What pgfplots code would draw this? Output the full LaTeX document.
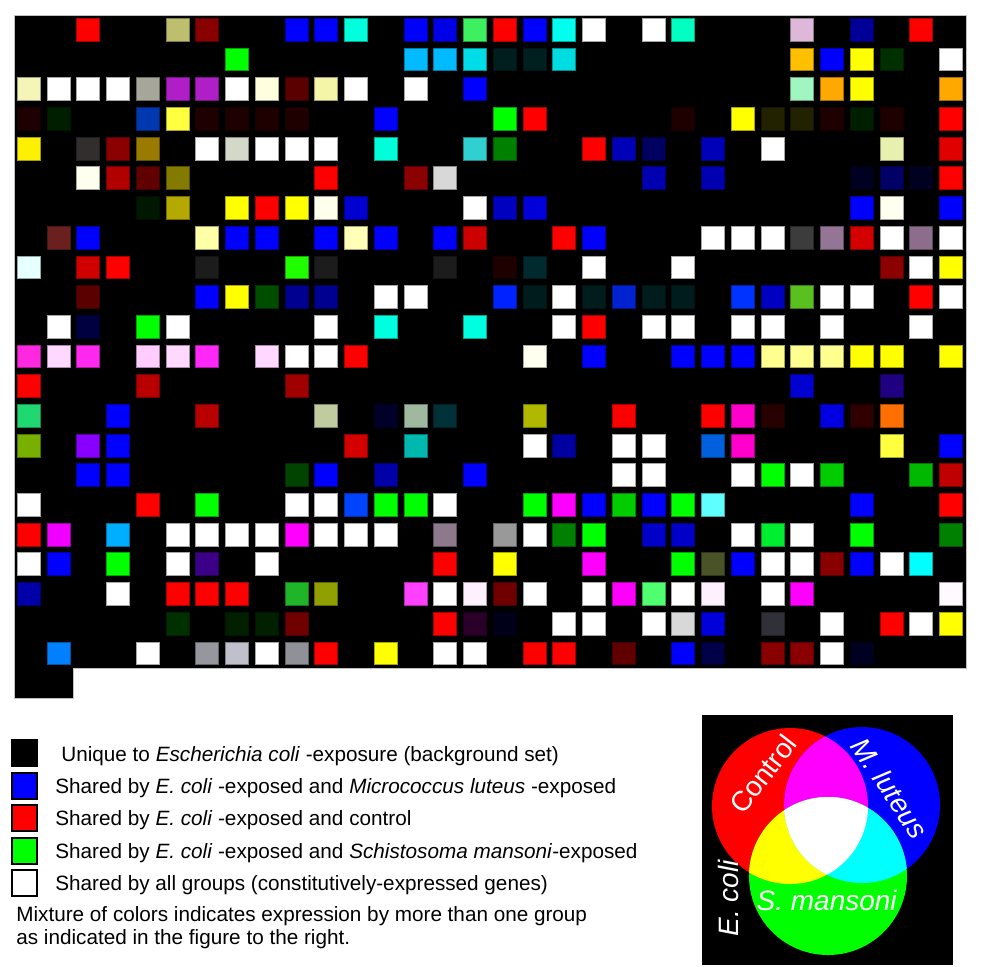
\documentclass[border=0pt]{standalone}
\usepackage{pgfplots}
\usepackage{pgfplotstable}
\pgfplotsset{compat=1.18}
\usepackage{fontspec}
\setmainfont{Liberation Sans}

\definecolor{pureR}{HTML}{FF0000}
\definecolor{pureG}{HTML}{00FF00}
\definecolor{pureB}{HTML}{0000FF}
\definecolor{pureM}{HTML}{FF00FF}
\definecolor{pureY}{HTML}{FFFF00}
\definecolor{pureC}{HTML}{00FFFF}

% one row per coloured cell: column, row (0 = top), hex colour
\pgfplotstableread{
x y c
2 0 FF0000
5 0 BDBF6E
6 0 880000
9 0 0000FF
10 0 0000FF
11 0 00FFDD
13 0 0000FF
14 0 0000E6
15 0 3CF060
16 0 FF0000
17 0 0000FF
18 0 00FFEE
19 0 FFFFFF
21 0 FFFFFF
22 0 00FFC0
26 0 DDB8D8
28 0 000099
30 0 FF0000
7 1 00FF00
13 1 00BBFF
14 1 00BBFF
15 1 00DDE8
16 1 001E1E
17 1 002020
18 1 00DDE0
26 1 FFC000
27 1 0000FF
28 1 FFFF00
29 1 003000
31 1 FFFFFF
0 2 F5F5B8
1 2 FFFFFF
2 2 FFFFFF
3 2 FFFFFF
4 2 A6A69A
5 2 B01EC8
6 2 B01EC8
7 2 FFFFFF
8 2 FFFFE0
9 2 5A0000
10 2 F5F5A8
11 2 FFFFFF
13 2 FFFFFF
15 2 0000FF
26 2 A0F5C0
27 2 FFA800
28 2 FFFF00
31 2 FFA800
0 3 1E0000
1 3 001E00
4 3 0038B0
5 3 FFFF40
6 3 1E0000
7 3 1E0000
8 3 1E0000
9 3 1E0000
12 3 0000FF
16 3 00FF00
17 3 FF0000
22 3 1E0000
24 3 FFFF00
25 3 222200
26 3 222200
27 3 1E0000
28 3 001E00
29 3 1E0000
31 3 FF0000
0 4 FFF000
2 4 332E2E
3 4 8B0000
4 4 9A7A00
6 4 FFFFFF
7 4 D4D8C8
8 4 FFFFFF
9 4 FFFFFF
10 4 FFFFFF
12 4 00FFD8
15 4 30D0D0
16 4 008000
19 4 FF0000
20 4 0000B8
21 4 000060
23 4 0000B8
25 4 FFFFFF
29 4 E8F0B0
31 4 E00000
2 5 FFFFF0
3 5 B20000
4 5 600000
5 5 857A00
10 5 FF0000
13 5 8B0000
14 5 D8D8D8
21 5 0000B0
23 5 0000B0
28 5 000020
29 5 000066
30 5 000020
31 5 FF0000
4 6 001800
5 6 B5A800
7 6 FFFF00
8 6 FF0000
9 6 FFFF00
10 6 FFFFEE
11 6 0000D0
15 6 FFFFFF
16 6 0000C0
17 6 0000D8
28 6 0000FF
29 6 FFFFF0
31 6 0000FF
1 7 6B2020
2 7 0000FF
6 7 FFFFA8
7 7 0000FF
8 7 0000FF
10 7 0000FF
11 7 FFFFB8
12 7 0000FF
14 7 0000FF
15 7 CC0000
18 7 FF0000
19 7 0000FF
23 7 FFFFFF
24 7 FFFFFF
25 7 FFFFFF
26 7 3C3C3C
27 7 957596
28 7 D40000
29 7 FFFFFF
30 7 8C6E8C
31 7 FFFFFF
0 8 E6FFFF
2 8 D00000
3 8 FF0000
6 8 1C1C1C
9 8 20FF00
10 8 1C1C1C
14 8 1C1C1C
16 8 1E0000
17 8 002A2E
19 8 FFFFFF
22 8 FFFFFF
29 8 8B0000
30 8 FFFFFF
31 8 FFFF00
2 9 5A0000
6 9 0000FF
7 9 FFFF00
8 9 004D00
9 9 000090
10 9 000090
12 9 FFFFFF
13 9 FFFFFF
16 9 0022FF
17 9 001C1C
18 9 FFFFFF
19 9 001C1C
20 9 0022D0
21 9 001C1C
22 9 001C1C
24 9 0033FF
25 9 0000C0
26 9 5AC020
27 9 FFFFFF
28 9 FFFFFF
30 9 FF0000
31 9 FFFFFF
1 10 FFFFFF
2 10 000040
4 10 00FF00
5 10 FFFFFF
10 10 FFFFFF
12 10 00FFE0
15 10 00FFE0
18 10 FFFFFF
19 10 FF0000
21 10 FFFFFF
22 10 FFFFFF
24 10 FFFFFF
25 10 FFFFFF
27 10 FFFFFF
30 10 FFFFFF
0 11 FF28E0
1 11 FFD8FF
2 11 FF28F0
4 11 FFCCFF
5 11 FFD8FF
6 11 FF28F8
8 11 FFD8FF
9 11 FFFFFF
10 11 FFFFFF
11 11 FF0000
17 11 FFFFF0
19 11 0000FF
22 11 0000FF
23 11 0000FF
24 11 0000FF
25 11 FFFF90
26 11 FFFF90
27 11 FFFF90
28 11 FFFF00
29 11 FFFF00
31 11 FFFF00
0 12 FF0000
4 12 B80000
9 12 A00000
26 12 0000D0
29 12 1E0080
0 13 20D870
3 13 0000FF
6 13 B80000
10 13 C0CCA0
12 13 000028
13 13 A0B8A0
14 13 003038
17 13 B0B800
20 13 FF0000
23 13 FF0000
24 13 FF00CC
25 13 280000
27 13 0000E0
28 13 300000
29 13 FF7000
0 14 78B000
2 14 8800FF
3 14 0000FF
11 14 D40000
13 14 00B8B0
17 14 FFFFFF
18 14 0000A0
20 14 FFFFFF
21 14 FFFFFF
23 14 0060DD
24 14 FF00CC
29 14 FFFF40
31 14 0000FF
2 15 0000FF
3 15 0000FF
9 15 004400
10 15 0000FF
12 15 0000A8
15 15 0000FF
20 15 FFFFFF
21 15 FFFFFF
24 15 FFFFFF
25 15 00FF00
26 15 FFFFFF
27 15 00CC00
30 15 00B800
31 15 C00000
0 16 FFFFFF
4 16 FF0000
6 16 00FF00
9 16 FFFFFF
10 16 FFFFFF
11 16 0044FF
12 16 00FF00
13 16 00FF00
14 16 FFFFFF
17 16 00FF00
18 16 FF00FF
19 16 0000FF
20 16 00CC00
21 16 0000FF
22 16 00FF00
23 16 60FFFF
28 16 0000FF
31 16 FF0000
0 17 FF0000
1 17 F000FF
3 17 00AEFF
5 17 FFFFFF
6 17 FFFFFF
7 17 FFFFFF
8 17 FFFFFF
9 17 FF00FF
10 17 FFFFFF
11 17 FFFFFF
12 17 FFFFFF
14 17 8C7A8C
16 17 999999
17 17 FFFFFF
18 17 008000
19 17 00FF00
21 17 0000C8
22 17 0000C8
24 17 FFFFFF
25 17 00EE30
26 17 FFFFFF
28 17 00FF00
31 17 008000
0 18 FFFFFF
1 18 0000FF
3 18 00FF00
5 18 FFFFFF
6 18 3C0088
8 18 FFFFFF
14 18 FF0000
16 18 FFFF00
19 18 FF00FF
22 18 00FF00
23 18 4A5228
24 18 0000FF
25 18 FFFFFF
26 18 FFFFFF
27 18 880000
28 18 0000FF
29 18 FFFFFF
30 18 00FFFF
0 19 0000A8
3 19 FFFFFF
5 19 FF0000
6 19 FF0000
7 19 FF0000
9 19 20B428
10 19 90A000
13 19 FF40FF
14 19 FFFFFF
15 19 FFF0FF
16 19 700000
17 19 FFFFFF
19 19 FFFFFF
20 19 FF00FF
21 19 50FF70
22 19 FFFFFF
23 19 FFF0FF
25 19 FFFFFF
26 19 FF00FF
31 19 FFFAFF
5 20 003000
7 20 002000
8 20 002000
9 20 700000
14 20 FF0000
15 20 2A0028
16 20 000018
18 20 FFFFFF
19 20 FFFFFF
21 20 FFFFFF
22 20 D8D8D8
23 20 0000D8
25 20 303038
27 20 FFFFFF
29 20 FF0000
30 20 FFFFFF
31 20 FFFF00
1 21 0080FF
4 21 FFFFFF
6 21 96969E
7 21 C0C0CC
8 21 FFFFFF
9 21 909098
10 21 FF0000
12 21 FFFF00
14 21 FFFFFF
15 21 FFFFFF
17 21 FF0000
18 21 FF0000
20 21 600000
22 21 0000FF
23 21 000048
25 21 880000
26 21 8A0000
27 21 FFFFFF
28 21 000020
}\cells

\begin{document}
\begin{tikzpicture}
\path[use as bounding box] (0,0) rectangle (495pt,-483pt);

\begin{axis}[
    at={(7pt,-7.5pt)}, anchor=north west,
    scale only axis,
    width=476pt, height=341.5pt,
    xmin=-0.5, xmax=31.5,
    ymin=-0.5, ymax=22.5,
    y dir=reverse,
    hide axis,
    clip=false,
    ]
    % black background of the gene grid (with the two extra cells below)
    \addplot[fill=black, draw=black!25, line width=0.5pt]
        coordinates {(-0.5,-0.5) (31.5,-0.5) (31.5,21.5) (1.5,21.5)
                     (1.5,22.5) (-0.5,22.5) (-0.5,-0.5)};
    % coloured cells
    \addplot[scatter, only marks, mark=square*, mark size=5.7pt,
        point meta=explicit symbolic,
        scatter/@pre marker code/.code={%
            \edef\tmp{\noexpand\definecolor{cc}{HTML}{\pgfplotspointmeta}}\tmp
            \scope[fill=cc, draw=cc!65!black, line width=0.5pt]},
        scatter/@post marker code/.code={\endscope},
        ] table[x=x, y=y, meta=c] {\cells};
\end{axis}

\begin{scope}[x=0.5pt, y=-0.5pt]
    % legend
    \foreach \yy/\col in {740/black, 773/pureB, 805/pureR, 838/pureG, 870/white}
        \filldraw[fill=\col, draw=black, line width=0.6pt] (12,\yy) rectangle (37,\yy+26);
    \begin{scope}[every node/.style={anchor=base west, inner sep=0pt,
            font=\fontsize{10.35}{12}\selectfont}]
        \node at (61,761) {Unique to \textit{Escherichia coli} -exposure (background set)};
        \node at (55,793) {Shared by \textit{E. coli} -exposed and \textit{Micrococcus luteus} -exposed};
        \node at (55,825) {Shared by \textit{E. coli} -exposed and control};
        \node at (55,858) {Shared by \textit{E. coli} -exposed and \textit{Schistosoma mansoni}-exposed};
        \node at (55,890) {Shared by all groups (constitutively-expressed genes)};
        \node at (16,921) {Mixture of colors indicates expression by more than one group};
        \node at (16,944) {as indicated in the figure to the right.};
    \end{scope}

    % colour-mixing diagram
    \fill[black] (702,715) rectangle (953,965);
    \def\cR{(790,806) circle[radius=39pt]}
    \def\cB{(862,805) circle[radius=39pt]}
    \def\cG{(828,876) circle[radius=39.5pt]}
    \fill[pureR] \cR;
    \fill[pureB] \cB;
    \fill[pureG] \cG;
    \begin{scope}\clip \cR; \fill[pureM] \cB; \end{scope}
    \begin{scope}\clip \cR; \fill[pureY] \cG; \end{scope}
    \begin{scope}\clip \cB; \fill[pureC] \cG; \end{scope}
    \begin{scope}\clip \cR; \clip \cB; \fill[white] \cG; \end{scope}
    \begin{scope}[every node/.style={text=white, inner sep=0pt,
            font=\fontsize{14}{17}\selectfont}]
        \node[rotate=52] at (763,774) {Control};
        \node[rotate=-56] at (890,788) {\textit{M. luteus}};
        \node at (827,900) {\textit{S. mansoni}};
        \node[rotate=90] at (728,898) {\textit{E. coli}};
    \end{scope}
\end{scope}
\end{tikzpicture}
\end{document}
